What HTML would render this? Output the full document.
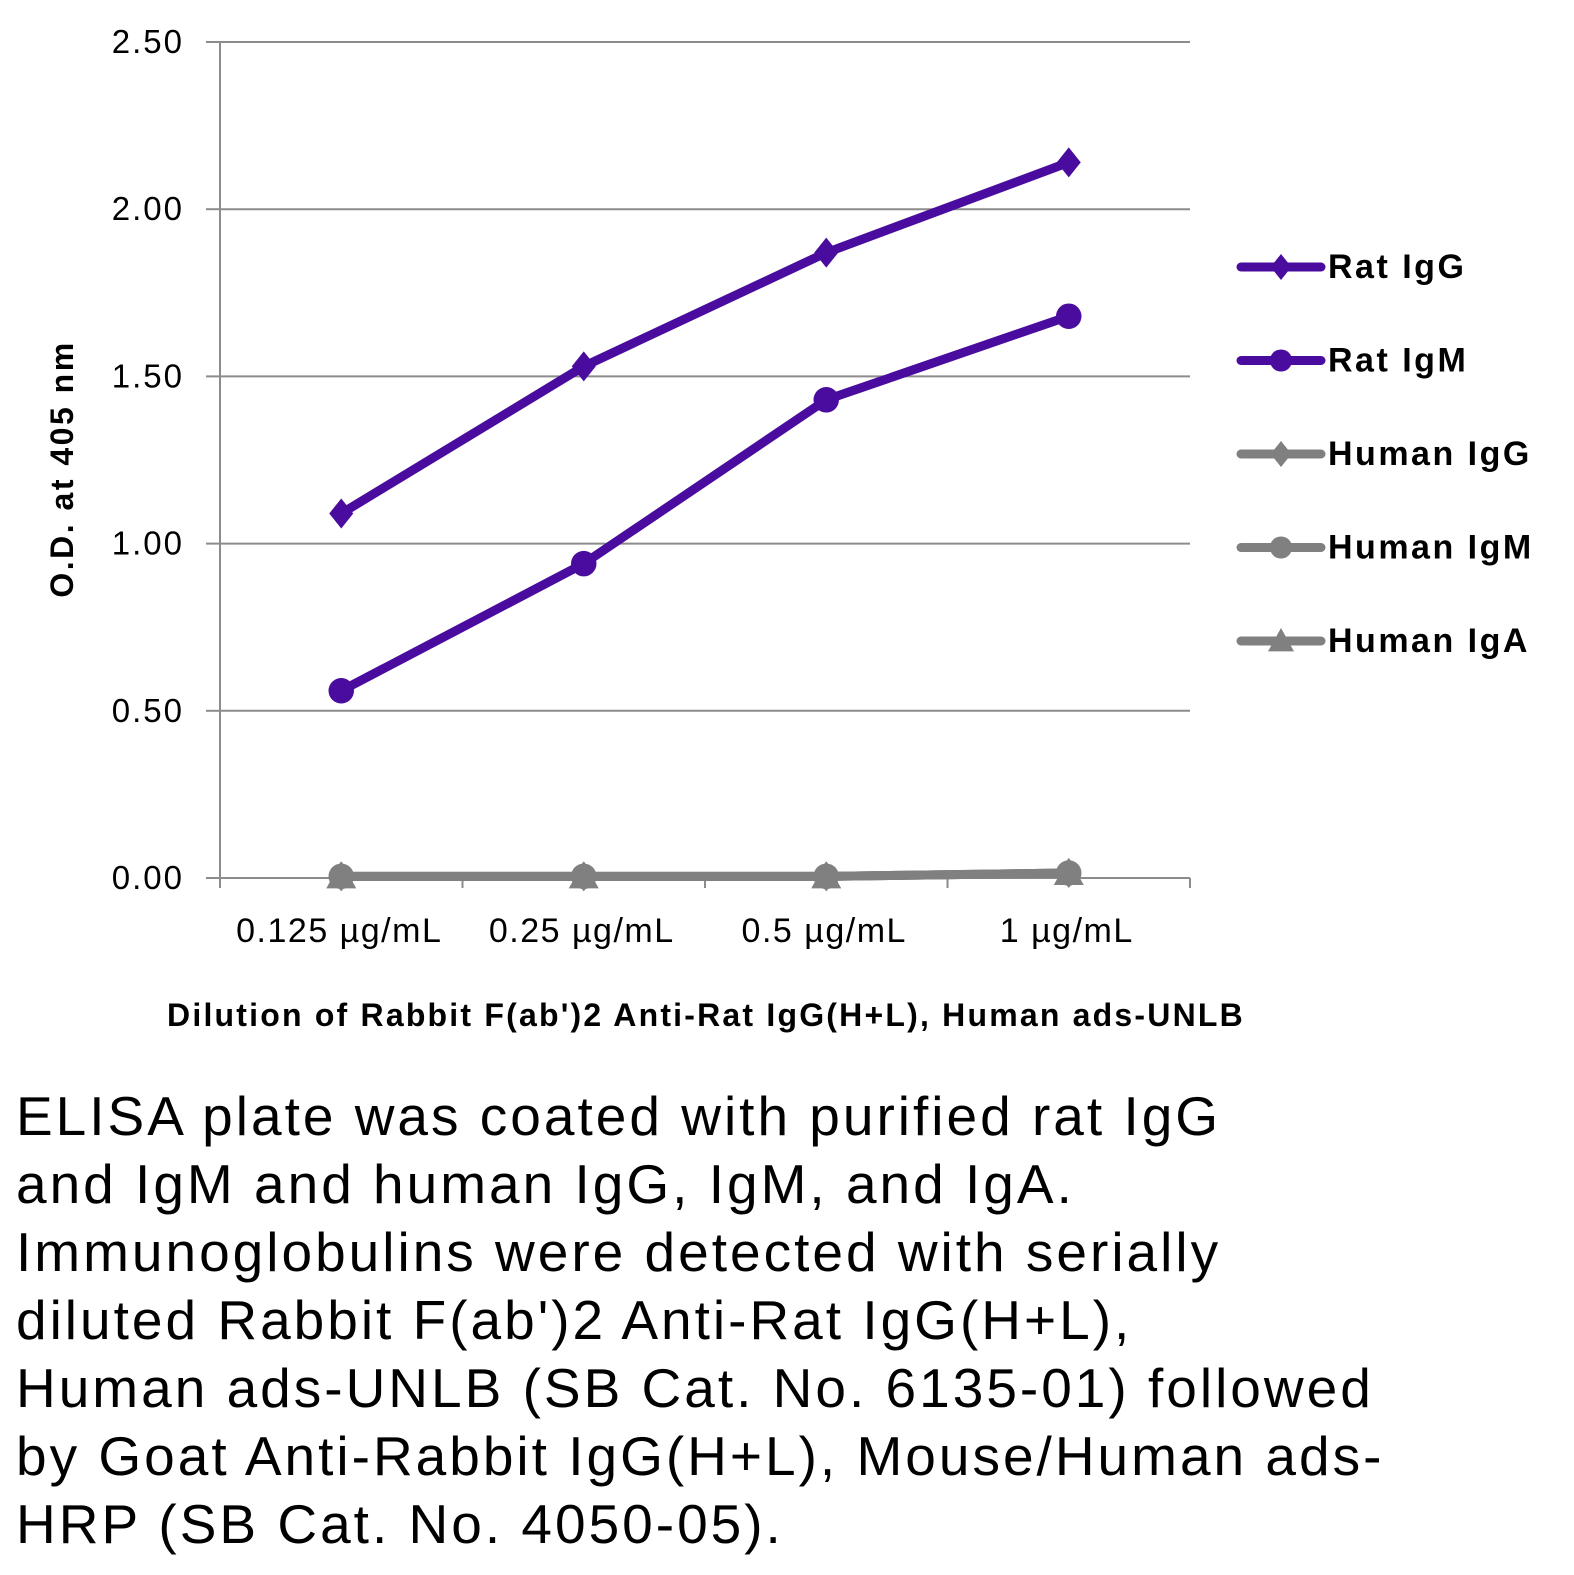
<!DOCTYPE html>
<html><head><meta charset="utf-8"><style>
body{margin:0;background:#fff;width:1574px;height:1575px;overflow:hidden;font-family:"Liberation Sans",sans-serif}
#cap{position:absolute;left:16px;top:1082px;font-size:55px;line-height:68px;color:#000;margin:0;width:1560px;letter-spacing:3px;white-space:nowrap}
</style></head><body>
<svg id="chart" width="1574" height="1075" style="position:absolute;left:0;top:0" xmlns="http://www.w3.org/2000/svg"></svg>
<p id="cap">ELISA plate was coated with purified rat IgG<br>and IgM and human IgG, IgM, and IgA.<br>Immunoglobulins were detected with serially<br>diluted Rabbit F(ab')2 Anti-Rat IgG(H+L),<br>Human ads-UNLB (SB Cat. No. 6135-01) followed<br>by Goat Anti-Rabbit IgG(H+L), Mouse/Human ads-<br>HRP (SB Cat. No. 4050-05).</p>
<script>
const categories=["0.125 µg/mL","0.25 µg/mL","0.5 µg/mL","1 µg/mL"];
const yTicks=[0,0.5,1,1.5,2,2.5];
const yTickLabels=["0.00","0.50","1.00","1.50","2.00","2.50"];
const seriesNames=["Rat IgG","Rat IgM","Human IgG","Human IgM","Human IgA"];
const ratIgG=[1.09,1.53,1.87,2.14];
const ratIgM=[0.56,0.94,1.43,1.68];
const humanIgG=[0.005,0.005,0.005,0.015];
const humanIgM=[0.005,0.005,0.005,0.015];
const humanIgA=[0.005,0.005,0.005,0.015];
const NS="http://www.w3.org/2000/svg";
const svg=document.getElementById('chart');
const X0=220,X1=1190,Y0=878,Y1=42;
const xs=i=>X0+(X1-X0)/categories.length*(i+0.5);
const ys=v=>Y0-(v/2.5)*(Y0-Y1);
function mk(t,a,p){const e=document.createElementNS(NS,t);for(const k in a)e.setAttribute(k,a[k]);(p||svg).appendChild(e);return e;}
yTicks.forEach((v,i)=>{
 if(v>0){const g=mk('line',{x1:X0,x2:X1,y1:ys(v),y2:ys(v),stroke:'#8c8c8c','stroke-width':2});
 
 }
 const tk=mk('line',{x1:X0-14,x2:X0,y1:ys(v),y2:ys(v),stroke:'#8c8c8c','stroke-width':2});
 
 
 const t=mk('text',{x:184,y:ys(v)+11,'text-anchor':'end','font-size':33,'letter-spacing':2,fill:'#000'});t.textContent=yTickLabels[i];
 
 
});
const ya=mk('line',{x1:X0,x2:X0,y1:Y1,y2:Y0,stroke:'#8c8c8c','stroke-width':2});


const xa=mk('line',{x1:X0,x2:X1,y1:Y0,y2:Y0,stroke:'#8c8c8c','stroke-width':2});


for(let i=0;i<=categories.length;i++){const x=X0+(X1-X0)/categories.length*i;
 const tk=mk('line',{x1:x,x2:x,y1:Y0,y2:Y0+10,stroke:'#8c8c8c','stroke-width':2});
 
 }
categories.forEach((c,i)=>{const t=mk('text',{x:xs(i)-2,y:942,'text-anchor':'middle','font-size':34,'letter-spacing':1.5});t.textContent=c;
 
 });
const yt=mk('text',{x:0,y:0,'font-size':32,'font-weight':'bold','letter-spacing':2.5,'text-anchor':'middle',transform:'translate(73,469) rotate(-90)'});yt.textContent='O.D. at 405 nm';


const xt=mk('text',{x:706,y:1026,'font-size':32,'font-weight':'bold','text-anchor':'middle','letter-spacing':2.2});xt.textContent="Dilution of Rabbit F(ab')2 Anti-Rat IgG(H+L), Human ads-UNLB";


function marker(type,x,y,col,s){
 if(type==='d')return mk('polygon',{points:`${x},${y-s} ${x+s*0.8},${y} ${x},${y+s} ${x-s*0.8},${y}`,fill:col});
 if(type==='c')return mk('circle',{cx:x,cy:y,r:s*0.85,fill:col});
 return mk('polygon',{points:`${x},${y-s} ${x+s},${y+s*0.8} ${x-s},${y+s*0.8}`,fill:col});
}
const P='#4a0c9e',G='#808080';
const series=[[ratIgG,P,'d'],[ratIgM,P,'c'],[humanIgG,G,'d'],[humanIgM,G,'c'],[humanIgA,G,'t']];
series.slice().reverse().forEach(([d,col,m],ri)=>{
 const pl=mk('polyline',{points:d.map((v,i)=>xs(i)+','+ys(v)).join(' '),fill:'none',stroke:col,'stroke-width':9,'stroke-linejoin':'round'});
 
 
 d.forEach((v,i)=>{const e=marker(m,xs(i),ys(v),col,15);
  
  });
});
series.forEach(([d,col,m],i)=>{const y=267+i*93.5;
 const l=mk('line',{x1:1241,x2:1321,y1:y,y2:y,stroke:col,'stroke-width':9,'stroke-linecap':'round'});
 
 
 marker(m,1281,y,col,13);
 const t=mk('text',{x:1328,y:y+11,'font-size':34,'font-weight':'bold','letter-spacing':2.5});t.textContent=seriesNames[i];
 
 
});
</script>
</body></html>
